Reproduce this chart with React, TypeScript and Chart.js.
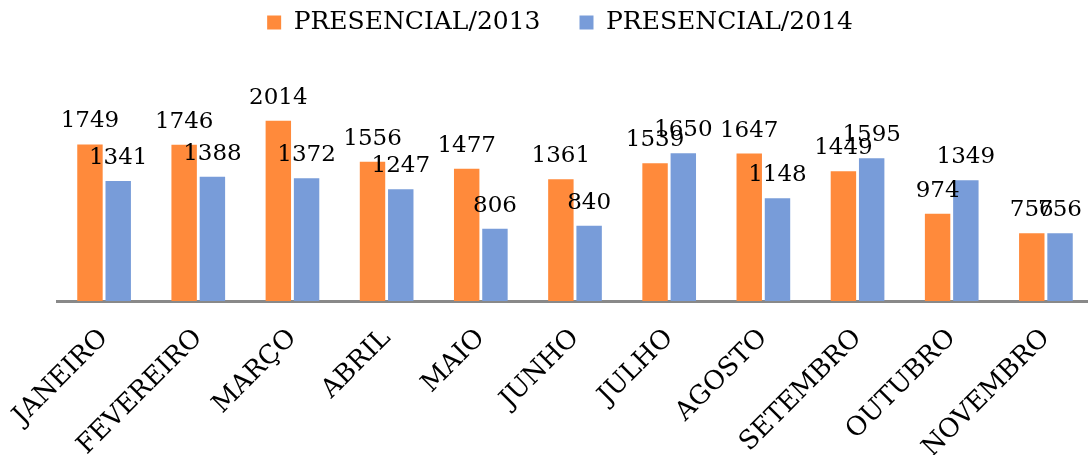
import React, { useEffect, useRef } from "react";
import { Chart, registerables } from "chart.js";

Chart.register(...registerables);

const categories = [
  "JANEIRO", "FEVEREIRO", "MARÇO", "ABRIL", "MAIO", "JUNHO",
  "JULHO", "AGOSTO", "SETEMBRO", "OUTUBRO", "NOVEMBRO",
];
const series2013 = [1749, 1746, 2014, 1556, 1477, 1361, 1539, 1647, 1449, 974, 756];
const series2014 = [1341, 1388, 1372, 1247, 806, 840, 1650, 1148, 1595, 1349, 756];
const seriesNames = ["PRESENCIAL/2013", "PRESENCIAL/2014"];
const seriesColors = ["#FF8A3B", "#789CD9"];

const FONT = "'DejaVu Serif', 'Liberation Serif', serif";
const LEGEND_PAD = 39;
const LEGEND_HEIGHT = 44;
const LEGEND_ROW_TOP = 10;

const dataLabels = {
  id: "dataLabels",
  afterDatasetsDraw(chart: any) {
    const ctx = chart.ctx;
    ctx.save();
    ctx.font = `23px ${FONT}`;
    ctx.fillStyle = "#000";
    ctx.textAlign = "center";
    ctx.textBaseline = "alphabetic";
    chart.data.datasets.forEach((ds: any, i: number) => {
      const meta = chart.getDatasetMeta(i);
      meta.data.forEach((bar: any, j: number) => {
        ctx.fillText(String(ds.data[j]), bar.x, bar.y - 17);
      });
    });
    ctx.restore();
  },
};

// keeps the legend compact vertically while spacing items widely
const legendFit = {
  id: "legendFit",
  beforeLayout(chart: any) {
    const lg = chart.legend;
    if (lg && !lg.__patched) {
      const orig = lg.fit.bind(lg);
      lg.fit = function () {
        orig();
        this.height = LEGEND_HEIGHT;
      };
      lg.__patched = true;
    }
  },
  afterLayout(chart: any) {
    const lg = chart.legend;
    if (lg) {
      lg.top = LEGEND_ROW_TOP - LEGEND_PAD;
      lg.bottom = LEGEND_ROW_TOP + 40;
    }
  },
};

export default function App() {
  const ref = useRef<HTMLCanvasElement>(null);
  useEffect(() => {
    if (!ref.current) return;
    const chart = new Chart(ref.current, {
      type: "bar",
      data: {
        labels: categories,
        datasets: [
          { label: seriesNames[0], data: series2013, backgroundColor: seriesColors[0] },
          { label: seriesNames[1], data: series2014, backgroundColor: seriesColors[1] },
        ],
      },
      options: {
        animation: false,
        responsive: false,
        maintainAspectRatio: false,
        layout: { padding: { left: 27, right: 7, top: 0, bottom: 0 } },
        datasets: {
          bar: { categoryPercentage: 0.6, barPercentage: 0.9 },
        },
        plugins: {
          legend: {
            position: "top",
            labels: {
              font: { family: FONT, size: 25 },
              color: "#000",
              boxWidth: 14,
              boxHeight: 14,
              padding: LEGEND_PAD,
            },
          },
          tooltip: { enabled: false },
        },
        scales: {
          x: {
            grid: { display: false },
            border: { display: true, color: "#898989", width: 3 },
            ticks: {
              font: { family: FONT, size: 26 },
              color: "#000",
              minRotation: 45,
              maxRotation: 45,
              autoSkip: false,
              padding: 14,
            },
            afterFit: (s: any) => {
              s.height = 154;
            },
          },
          y: {
            min: 0,
            max: 2870,
            display: true,
            grid: { display: false },
            border: { display: false },
            ticks: { display: false },
            afterFit: (s: any) => {
              s.width = 30;
            },
          },
        },
      },
      plugins: [legendFit, dataLabels],
    });
    return () => chart.destroy();
  }, []);
  return (
    <div style={{ position: "fixed", left: 0, top: 0, width: 1088, height: 455, overflow: "hidden", background: "#fff" }}>
      <canvas ref={ref} width={1100} height={455} style={{ display: "block", width: 1100, height: 455 }} />
    </div>
  );
}
